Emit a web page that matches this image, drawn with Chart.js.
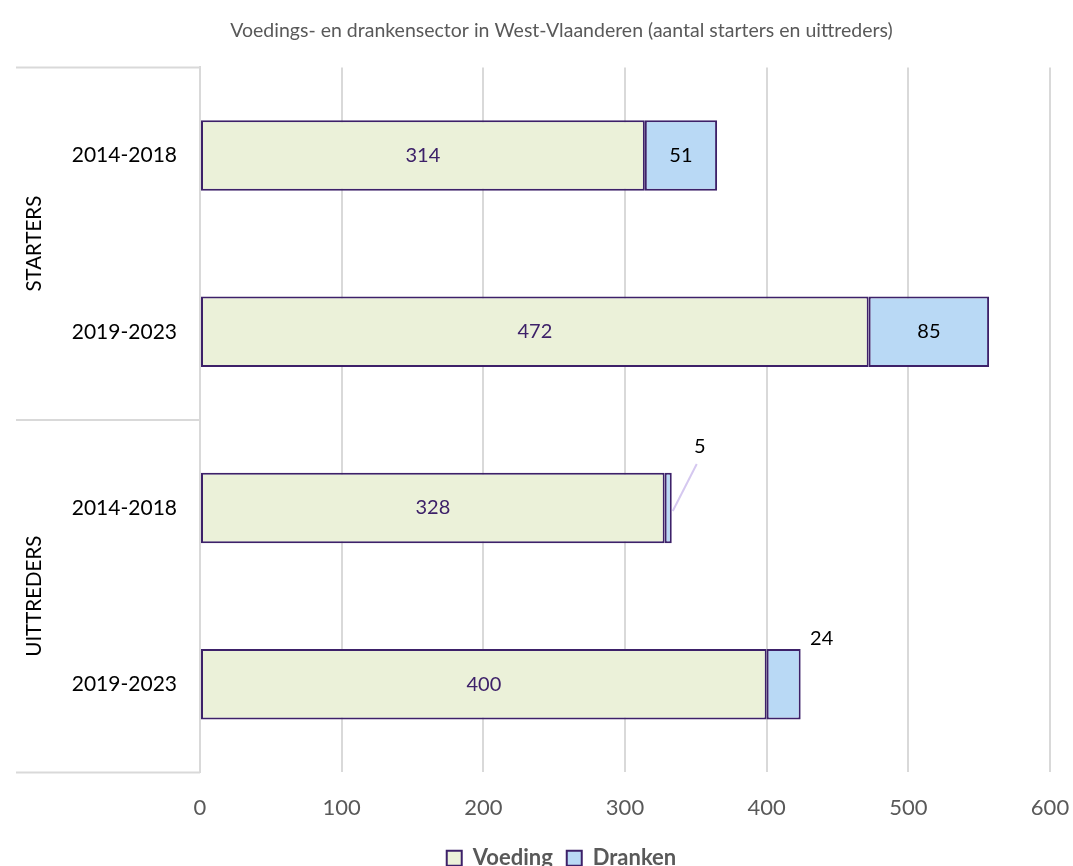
<!DOCTYPE html>
<html>
<head>
<meta charset="utf-8">
<script src="https://cdn.jsdelivr.net/npm/chart.js@4/dist/chart.umd.min.js"></script>
<style>
  html, body { margin: 0; padding: 0; background: #fff; }
  #wrap { width: 1073px; height: 866px; }
</style>
</head>
<body>
<div id="wrap"><canvas id="chart" width="1073" height="866"></canvas></div>
<script>
// data
const periods = ['2014-2018', '2019-2023', '2014-2018', '2019-2023'];
const groups = ['STARTERS', 'UITTREDERS'];
const voeding = [314, 472, 328, 400];
const dranken = [51, 85, 5, 24];
const xTicks = [0, 100, 200, 300, 400, 500, 600];

const FONT = 'Lato, "Open Sans", sans-serif';
const GRID = '#d9d9d9';
const EDGE = '#3d2169';

// small bars get their label pushed outside (offset from bar end), with a leader line
const outsideLabels = {
  2: { dx: 28, dy: -61, leader: true },
  3: { dx: 21, dy: -46, leader: false }
};

const barLabels = {
  id: 'barLabels',
  afterDatasetsDraw(chart) {
    const ctx = chart.ctx;
    ctx.save();
    ctx.font = '20px ' + FONT;
    ctx.textAlign = 'center';
    ctx.textBaseline = 'middle';
    chart.data.datasets.forEach((ds, di) => {
      const meta = chart.getDatasetMeta(di);
      meta.data.forEach((bar, i) => {
        const v = ds.data[i];
        const cx = (bar.x + bar.base) / 2;
        if (di === 1 && outsideLabels[i]) {
          const o = outsideLabels[i];
          const lx = bar.x + o.dx, ly = bar.y + o.dy;
          if (o.leader) {
            ctx.strokeStyle = '#d5c8f0';
            ctx.lineWidth = 2;
            ctx.beginPath();
            ctx.moveTo(lx - 3, ly + 17);
            ctx.lineTo(bar.x + 1, bar.y + 3);
            ctx.stroke();
          }
          ctx.fillStyle = '#000';
          ctx.fillText(v, lx, ly);
        } else {
          ctx.fillStyle = di === 0 ? '#3d2169' : '#000';
          ctx.fillText(v, cx, bar.y);
        }
      });
    });
    ctx.restore();
  }
};

const groupAxis = {
  id: 'groupAxis',
  afterDraw(chart) {
    const ctx = chart.ctx;
    const area = chart.chartArea;
    const y = chart.scales.y;
    const mid = (y.getPixelForValue(1) + y.getPixelForValue(2)) / 2;
    const bounds = [area.top, mid, area.bottom];
    ctx.save();
    ctx.strokeStyle = GRID;
    ctx.lineWidth = 2;
    bounds.forEach(b => {
      ctx.beginPath();
      ctx.moveTo(16, b);
      ctx.lineTo(area.left, b);
      ctx.stroke();
    });
    ctx.fillStyle = '#000';
    ctx.font = '20.5px ' + FONT;
    ctx.textAlign = 'center';
    ctx.textBaseline = 'middle';
    groups.forEach((g, k) => {
      const cy = (bounds[k] + bounds[k + 1]) / 2;
      ctx.save();
      ctx.translate(34, cy);
      ctx.rotate(-Math.PI / 2);
      ctx.fillText(g, 0, 0);
      ctx.restore();
    });
    ctx.restore();
  }
};

new Chart(document.getElementById('chart'), {
  type: 'bar',
  data: {
    labels: periods,
    datasets: [{
      label: 'Voeding',
      data: voeding,
      backgroundColor: '#ebf1d9',
      borderColor: EDGE,
      borderWidth: 2,
      borderSkipped: false
    }, {
      label: 'Dranken',
      data: dranken,
      backgroundColor: '#b9d9f5',
      borderColor: EDGE,
      borderWidth: 2,
      borderSkipped: false
    }]
  },
  options: {
    indexAxis: 'y',
    responsive: false,
    animation: false,
    layout: { padding: { left: 50, right: 0, bottom: -13.2, top: 0 } },
    datasets: { bar: { categoryPercentage: 1, barPercentage: 0.4 } },
    scales: {
      x: {
        stacked: true,
        min: 0,
        max: 600,
        afterBuildTicks: s => { s.ticks = xTicks.map(v => ({ value: v })); },
        afterFit: s => { s.paddingRight = 23; s.paddingLeft = 0; s.height = 60.8; },
        grid: { color: GRID, lineWidth: 2, drawTicks: false },
        border: { display: false },
        ticks: { color: '#595959', font: { family: FONT, size: 22 }, padding: 22 }
      },
      y: {
        stacked: true,
        afterFit: s => { s.width = 150; },
        grid: { display: false },
        border: { color: GRID, width: 2 },
        ticks: { color: '#000', font: { family: FONT, size: 21 }, padding: 15 }
      }
    },
    plugins: {
      title: {
        display: true,
        text: 'Voedings- en drankensector in West-Vlaanderen (aantal starters en uittreders)',
        color: '#595959',
        font: { family: FONT, size: 19.5, weight: 'normal' },
        padding: { top: 19, bottom: 25 }
      },
      legend: {
        position: 'bottom',
        labels: {
          color: '#595959',
          font: { family: FONT, size: 22, weight: 'bold' },
          boxWidth: 15,
          boxHeight: 15,
          padding: 14
        }
      },
      tooltip: { enabled: false }
    }
  },
  plugins: [barLabels, groupAxis]
});
</script>
</body>
</html>
